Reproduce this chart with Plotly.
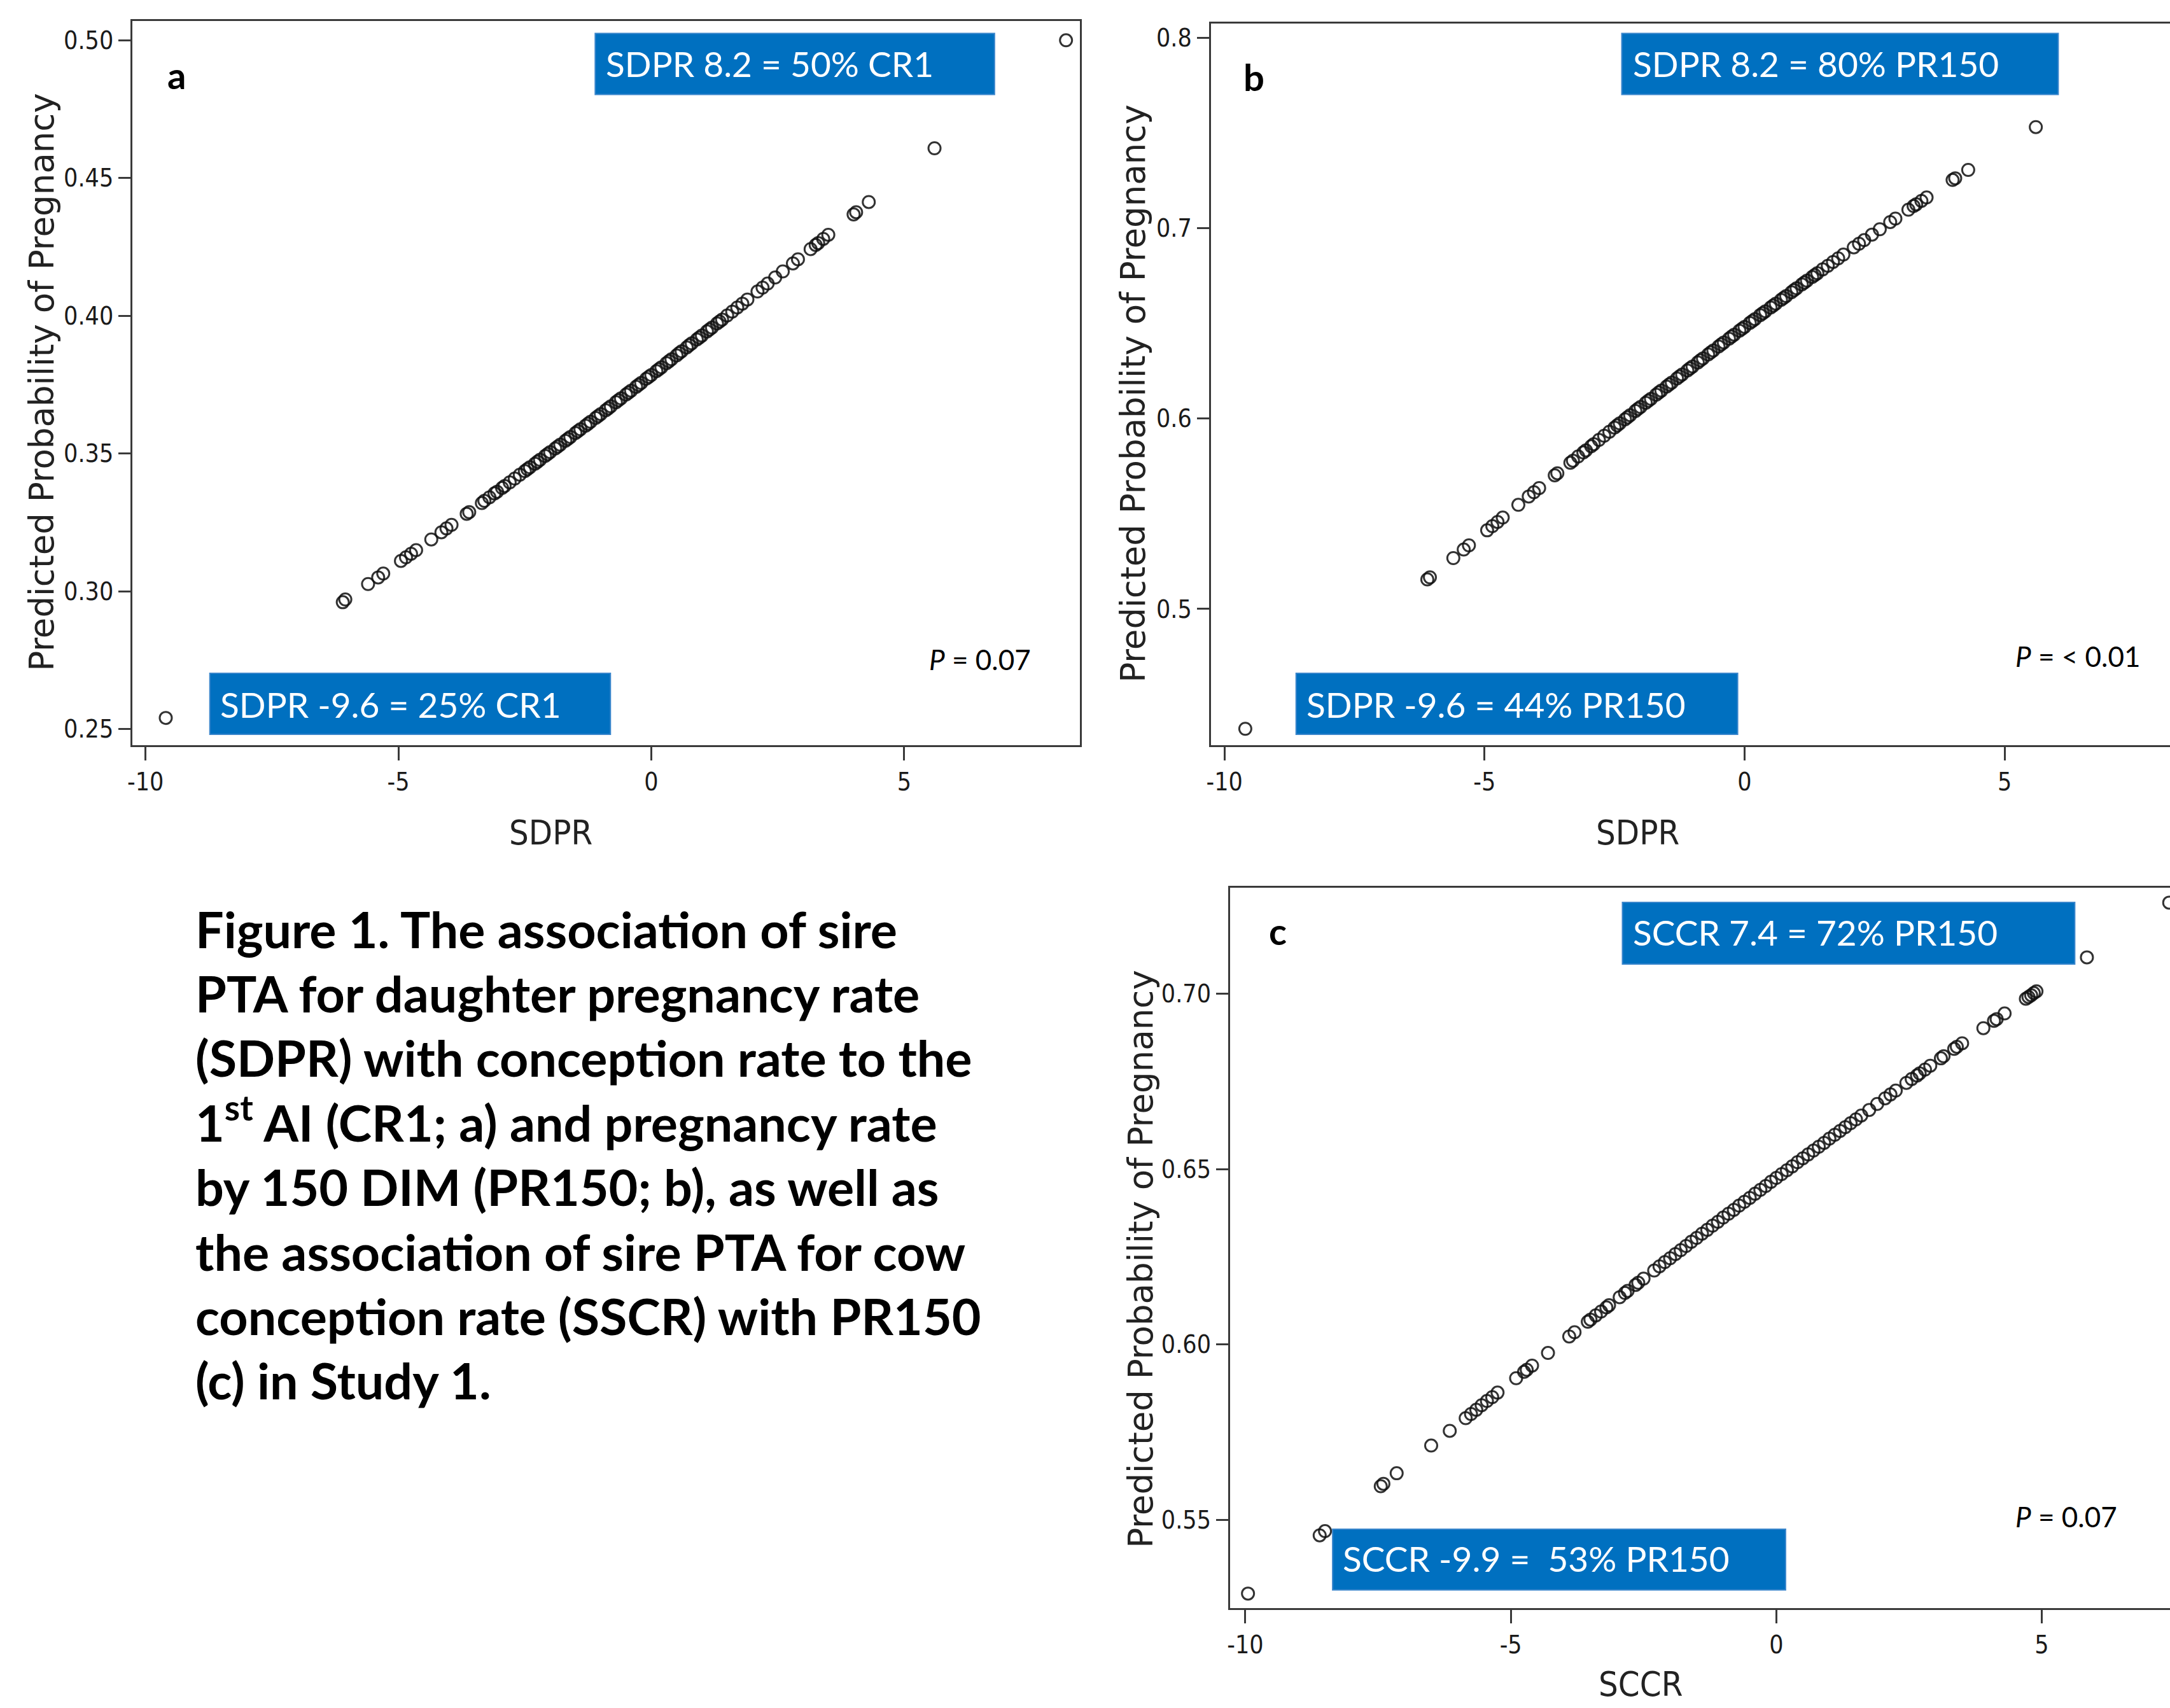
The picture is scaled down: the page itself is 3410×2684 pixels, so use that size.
import plotly.graph_objects as go

W, H = 3410, 2684

# ---------------- data ----------------
sdpr = [
    -9.6, -6.1, -6.05, -5.6, -5.4, -5.3, -4.95, -4.85, -4.75, -4.65,
    -4.35, -4.15, -4.05, -3.95, -3.65, -3.6, -3.35, -3.3, -3.2, -3.1,
    -3.05, -2.95, -2.9, -2.8, -2.7, -2.6, -2.5, -2.45, -2.4, -2.3,
    -2.25, -2.2, -2.1, -2.05, -2.0, -1.9, -1.85, -1.8, -1.7, -1.65,
    -1.6, -1.5, -1.45, -1.4, -1.3, -1.25, -1.2, -1.1, -1.05, -1.0,
    -0.9, -0.85, -0.8, -0.7, -0.65, -0.6, -0.5, -0.45, -0.4, -0.3,
    -0.25, -0.2, -0.1, -0.05, 0.0, 0.1, 0.15, 0.2, 0.3, 0.35,
    0.4, 0.5, 0.55, 0.6, 0.7, 0.75, 0.8, 0.9, 0.95, 1.0,
    1.1, 1.15, 1.2, 1.3, 1.35, 1.4, 1.5, 1.6, 1.7, 1.8,
    1.9, 2.1, 2.2, 2.3, 2.45, 2.6, 2.8, 2.9, 3.15, 3.25,
    3.3, 3.4, 3.5, 4.0, 4.05, 4.3, 5.6, 8.2]

prob_cr1 = [
    0.254, 0.296, 0.297, 0.3026, 0.305, 0.3064, 0.311, 0.3123, 0.3136, 0.3149,
    0.3188, 0.3214, 0.3228, 0.3241, 0.3281, 0.3287, 0.332, 0.3328, 0.3341, 0.3355,
    0.3361, 0.3375, 0.3382, 0.3395, 0.3409, 0.3423, 0.3436, 0.3443, 0.345, 0.3463,
    0.347, 0.3477, 0.3491, 0.3498, 0.3505, 0.3518, 0.3525, 0.3532, 0.3546, 0.3553,
    0.356, 0.3574, 0.3581, 0.3588, 0.3601, 0.3608, 0.3615, 0.3629, 0.3636, 0.3643,
    0.3657, 0.3664, 0.3671, 0.3686, 0.3693, 0.37, 0.3714, 0.3721, 0.3728, 0.3742,
    0.3749, 0.3756, 0.3771, 0.3778, 0.3785, 0.3799, 0.3806, 0.3813, 0.3828, 0.3835,
    0.3842, 0.3856, 0.3864, 0.3871, 0.3885, 0.3893, 0.39, 0.3914, 0.3921, 0.3928,
    0.3943, 0.395, 0.3957, 0.3972, 0.3979, 0.3986, 0.4001, 0.4015, 0.403, 0.4044,
    0.4059, 0.4088, 0.4102, 0.4117, 0.4139, 0.4161, 0.419, 0.4205, 0.4242, 0.4257,
    0.4264, 0.4279, 0.4294, 0.4368, 0.4376, 0.4413, 0.4608, 0.500]

prob_pr150_sdpr = [
    0.437, 0.5155, 0.5166, 0.5267, 0.5312, 0.5334, 0.5413, 0.5435, 0.5457, 0.548,
    0.5547, 0.5591, 0.5613, 0.5635, 0.5702, 0.5713, 0.5768, 0.5779, 0.5801, 0.5822,
    0.5833, 0.5855, 0.5866, 0.5888, 0.591, 0.5931, 0.5953, 0.5964, 0.5975, 0.5996,
    0.6007, 0.6018, 0.604, 0.6051, 0.6061, 0.6083, 0.6094, 0.6104, 0.6126, 0.6137,
    0.6147, 0.6168, 0.6179, 0.6189, 0.6211, 0.6222, 0.6232, 0.6253, 0.6264, 0.6274,
    0.6295, 0.6306, 0.6316, 0.6337, 0.6348, 0.6358, 0.6379, 0.639, 0.64, 0.642,
    0.6431, 0.6441, 0.6462, 0.6472, 0.6482, 0.6503, 0.6513, 0.6523, 0.6544, 0.6554,
    0.6564, 0.6584, 0.6594, 0.6604, 0.6624, 0.6634, 0.6644, 0.6664, 0.6675, 0.6685,
    0.6705, 0.6715, 0.6725, 0.6744, 0.6754, 0.6764, 0.6784, 0.6803, 0.6823, 0.6842,
    0.6862, 0.69, 0.6919, 0.6938, 0.6967, 0.6995, 0.7033, 0.7051, 0.7098, 0.7117,
    0.7126, 0.7144, 0.7162, 0.7254, 0.7263, 0.7307, 0.7532, 0.794]

sccr = [
    -9.95, -8.6, -8.5, -7.45, -7.4, -7.15, -6.5, -6.15, -5.85, -5.75,
    -5.65, -5.55, -5.45, -5.35, -5.25, -4.9, -4.75, -4.7, -4.6, -4.3,
    -3.9, -3.8, -3.55, -3.5, -3.4, -3.3, -3.2, -3.15, -2.95, -2.85,
    -2.8, -2.65, -2.6, -2.5, -2.3, -2.2, -2.1, -2.0, -1.9, -1.8,
    -1.7, -1.6, -1.5, -1.4, -1.3, -1.2, -1.1, -1.0, -0.9, -0.8,
    -0.7, -0.6, -0.5, -0.4, -0.3, -0.2, -0.1, 0.0, 0.1, 0.2,
    0.3, 0.4, 0.5, 0.6, 0.7, 0.8, 0.9, 1.0, 1.1, 1.2,
    1.3, 1.4, 1.5, 1.6, 1.75, 1.9, 2.05, 2.15, 2.25, 2.45,
    2.55, 2.65, 2.7, 2.8, 2.9, 3.1, 3.15, 3.35, 3.4, 3.5,
    3.9, 4.1, 4.15, 4.3, 4.7, 4.75, 4.8, 4.85, 4.9, 5.85,
    7.4]

prob_pr150_sccr = [
    0.529, 0.5456, 0.5468, 0.5596, 0.5603, 0.5633, 0.5712, 0.5754, 0.579, 0.5802,
    0.5814, 0.5827, 0.5839, 0.585, 0.5863, 0.5904, 0.5922, 0.5928, 0.594, 0.5976,
    0.6023, 0.6035, 0.6065, 0.6071, 0.6083, 0.6094, 0.6106, 0.6112, 0.6135, 0.6147,
    0.6153, 0.617, 0.6176, 0.6188, 0.6211, 0.6223, 0.6235, 0.6246, 0.6258, 0.6269,
    0.6281, 0.6293, 0.6304, 0.6316, 0.6327, 0.6339, 0.635, 0.6362, 0.6373, 0.6384,
    0.6396, 0.6407, 0.6418, 0.643, 0.6441, 0.6452, 0.6464, 0.6475, 0.6486, 0.6497,
    0.6508, 0.652, 0.6531, 0.6542, 0.6553, 0.6564, 0.6575, 0.6587, 0.6598, 0.6609,
    0.662, 0.6631, 0.6642, 0.6653, 0.6669, 0.6686, 0.6702, 0.6713, 0.6724, 0.6746,
    0.6757, 0.6767, 0.6773, 0.6784, 0.6795, 0.6816, 0.6822, 0.6843, 0.6849, 0.6859,
    0.6902, 0.6923, 0.6928, 0.6944, 0.6986, 0.6991, 0.6996, 0.7002, 0.7007, 0.7104,
    0.726]

x_tick_vals = [-10, -5, 0, 5]
x_tick_text = ["-10", "-5", "0", "5"]
ya_tick_vals = [0.25, 0.30, 0.35, 0.40, 0.45, 0.50]
ya_tick_text = ["0.25", "0.30", "0.35", "0.40", "0.45", "0.50"]
yb_tick_vals = [0.5, 0.6, 0.7, 0.8]
yb_tick_text = ["0.5", "0.6", "0.7", "0.8"]
yc_tick_vals = [0.55, 0.60, 0.65, 0.70]
yc_tick_text = ["0.55", "0.60", "0.65", "0.70"]

y_title = "Predicted Probability of Pregnancy"
caption_lines = [
    "Figure 1. The association of sire",
    "PTA for daughter pregnancy rate",
    "(SDPR) with conception rate to the",
    "1<sup>st</sup> AI (CR1; a) and pregnancy rate",
    "by 150 DIM (PR150; b), as well as",
    "the association of sire PTA for cow",
    "conception rate (SSCR) with PR150",
    "(c) in Study 1.",
]

# ---------------- styling ----------------
MK = "rgba(15,15,15,0.85)"
AX = "#3a3a3a"
NARROW = "Liberation Sans Narrow, DejaVu Sans Condensed, Arial Narrow, sans-serif"
TICK_FONT = dict(family=NARROW, size=39, color="#1a1a1a")
CAL = "Lato, Carlito, Calibri, sans-serif"
BLUE = "#0070C0"


def fx(p):
    return p / W


def fy(p):
    return 1 - p / H


def marker():
    return dict(symbol="circle-open", size=19, color=MK, line=dict(width=3, color=MK))


fig = go.Figure()
fig.add_trace(go.Scatter(x=sdpr, y=prob_cr1, mode="markers", marker=marker(),
                         xaxis="x", yaxis="y", cliponaxis=False, hoverinfo="skip"))
fig.add_trace(go.Scatter(x=sdpr, y=prob_pr150_sdpr, mode="markers", marker=marker(),
                         xaxis="x2", yaxis="y2", cliponaxis=False, hoverinfo="skip"))
fig.add_trace(go.Scatter(x=sccr, y=prob_pr150_sccr, mode="markers", marker=marker(),
                         xaxis="x3", yaxis="y3", cliponaxis=False, hoverinfo="skip"))


def axis(domain, rng, anchor, tv, tt, mirror, ticklen):
    return dict(domain=domain, range=rng, anchor=anchor, showline=True, linecolor=AX,
                linewidth=3, mirror=mirror, ticks="outside", ticklen=ticklen, tickwidth=3,
                tickcolor=AX, tickvals=tv, ticktext=tt, tickfont=TICK_FONT,
                showgrid=False, zeroline=False, fixedrange=True)


layout = dict(
    width=W, height=H, margin=dict(l=0, r=0, t=0, b=0), autosize=False,
    paper_bgcolor="white", plot_bgcolor="white", showlegend=False,
    xaxis=axis([fx(200.5), fx(1693)], [-10.26, 8.475], "y", x_tick_vals, x_tick_text, True, 21),
    yaxis=axis([fy(1171), fy(32.6)], [0.2441, 0.5071], "x", ya_tick_vals, ya_tick_text, True, 19),
    xaxis2=axis([fx(1899), 1.0], [-10.265, 8.18], "y2", x_tick_vals, x_tick_text, True, 21),
    yaxis2=axis([fy(1171), fy(36.7)], [0.4284, 0.8077], "x2", yb_tick_vals, yb_tick_text, False, 19),
    xaxis3=axis([fx(1929.3), 1.0], [-10.29, 7.415], "y3", x_tick_vals, x_tick_text, True, 21),
    yaxis3=axis([fy(2527.3), fy(1394.7)], [0.5248, 0.7303], "x3", yc_tick_vals, yc_tick_text, False, 19),
)
fig.update_layout(**layout)

# blue label boxes (pixel rects)
boxes = [
    (929.5, 52.5, 1558.5, 148.5),
    (322.5, 1058, 953.5, 1154),
    (2546.5, 52.5, 3234, 148.5),
    (2033.5, 1058, 2729, 1154),
    (2547.5, 1418, 3260, 1515),
    (2091, 2403, 2804.5, 2498.5),
]
shapes = []
for (x0, y0, x1, y1) in boxes:
    shapes.append(dict(type="rect", xref="paper", yref="paper",
                       x0=fx(x0), x1=fx(x1), y0=fy(y1), y1=fy(y0),
                       fillcolor=BLUE, line=dict(color="#3A86CC", width=2), layer="above"))
fig.update_layout(shapes=shapes)

ann = []


def text(s, x, y, size, family, color="black", xanchor="left", yanchor="middle", angle=0):
    ann.append(dict(text=s, x=fx(x), y=fy(y), xref="paper", yref="paper", showarrow=False,
                    xanchor=xanchor, yanchor=yanchor, textangle=angle,
                    font=dict(family=family, size=size, color=color)))


box_texts = [
    ("SDPR 8.2 = 50% CR1", 944, 100),
    ("SDPR -9.6 = 25% CR1", 337, 1107),
    ("SDPR 8.2 = 80% PR150", 2562, 100),
    ("SDPR -9.6 = 44% PR150", 2048, 1107),
    ("SCCR 7.4 = 72% PR150", 2562, 1465),
    ("SCCR -9.9 = \u00a053% PR150", 2105, 2449),
]
for s, x, y in box_texts:
    text(s, x, y, 55, CAL, color="white")

text("<i>P</i> = 0.07", 1453, 1036, 44, CAL)
text("<i>P</i> = &lt; 0.01", 3164, 1031, 44, CAL)
text("<i>P</i> = 0.07", 3164, 2383, 44, CAL)

text("<b>a</b>", 270, 118, 58, CAL, xanchor="center")
text("<b>b</b>", 1967, 120, 58, CAL, xanchor="center")
text("<b>c</b>", 2005, 1462, 58, CAL, xanchor="center")

text(y_title, 57, 600, 53, "DejaVu Sans", color="#222", xanchor="center", angle=-90)
text(y_title, 1777, 618, 53, "DejaVu Sans", color="#222", xanchor="center", angle=-90)
text(y_title, 1788, 1978, 53, "DejaVu Sans", color="#222", xanchor="center", angle=-90)

text("SDPR", 860, 1309, 54, NARROW, color="#222", xanchor="center")
text("SDPR", 2572, 1309, 54, NARROW, color="#222", xanchor="center")
text("SCCR", 2576, 2646, 54, NARROW, color="#222", xanchor="center")

for i, line in enumerate(caption_lines):
    baseline = 1490 + 101.4 * i
    text("<b>" + line + "</b>", 298, baseline + 18.5, 79, CAL, yanchor="bottom")

fig.update_layout(annotations=ann)
fig.write_html("out.html", config={"displayModeBar": False},
               post_script="document.body.style.margin='0';")
